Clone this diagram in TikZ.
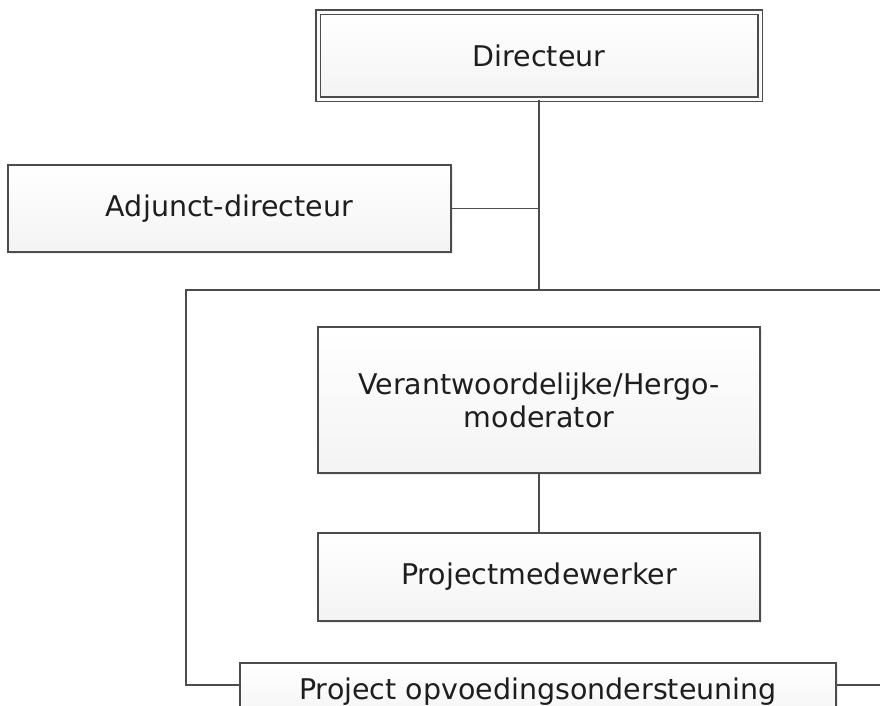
\documentclass[tikz,border=0pt]{standalone}
\usepackage{fontspec}
\setmainfont{DejaVu Sans}
\usetikzlibrary{shadows}
\definecolor{edge}{HTML}{4C4C4C}
\definecolor{txt}{HTML}{1E1E1E}
\begin{document}
\begin{tikzpicture}[x=1pt,y=-1pt,
  orgbox/.style={draw=edge, line width=1.7pt, top color=white, bottom color=gray!9,
    minimum width=442pt, inner sep=0pt, align=center, text=txt,
    font=\fontsize{28.5}{33}\selectfont,
    drop shadow={opacity=0.15, shadow xshift=2pt, shadow yshift=-2pt}},
  link/.style={draw=edge, line width=1.7pt}]
\useasboundingbox (0,0) rectangle (880,706);
\clip (0,0) rectangle (880,706);
\fill[white] (0,0) rectangle (880,706);
\node[orgbox, minimum height=87pt, double=gray!3, double distance=3pt, line width=1.5pt] (dir) at (539,56) {Directeur};
\node[orgbox, minimum width=443pt, minimum height=87pt] (adj) at (229.5,208.5) {Adjunct-directeur};
\node[orgbox, minimum height=146pt] (ver) at (539,400) {Verantwoordelijke/Hergo-\\moderator};
\node[orgbox, minimum height=88pt] (pm) at (539,577) {Projectmedewerker};
\node[orgbox, minimum width=596pt, minimum height=60pt, anchor=north] (proj) at (538,662) {};
\node[font=\fontsize{28.5}{33}\selectfont, text=txt] (projtxt) at (538,692) {Project opvoedingsondersteuning};
\coordinate (junc) at (539,290);
\coordinate (lc) at (186,290);
\coordinate (rc) at (890,290);
\draw[link] (dir.south) -- (junc);
\draw[link] (adj.east) -- (adj.east -| dir.south);
\draw[link] (junc) -- (lc) |- (proj.west |- 0,685);
\draw[link] (junc) -- (rc) |- (proj.east |- 0,685);
\draw[link] (ver.south) -- (pm.north);
\end{tikzpicture}
\end{document}
